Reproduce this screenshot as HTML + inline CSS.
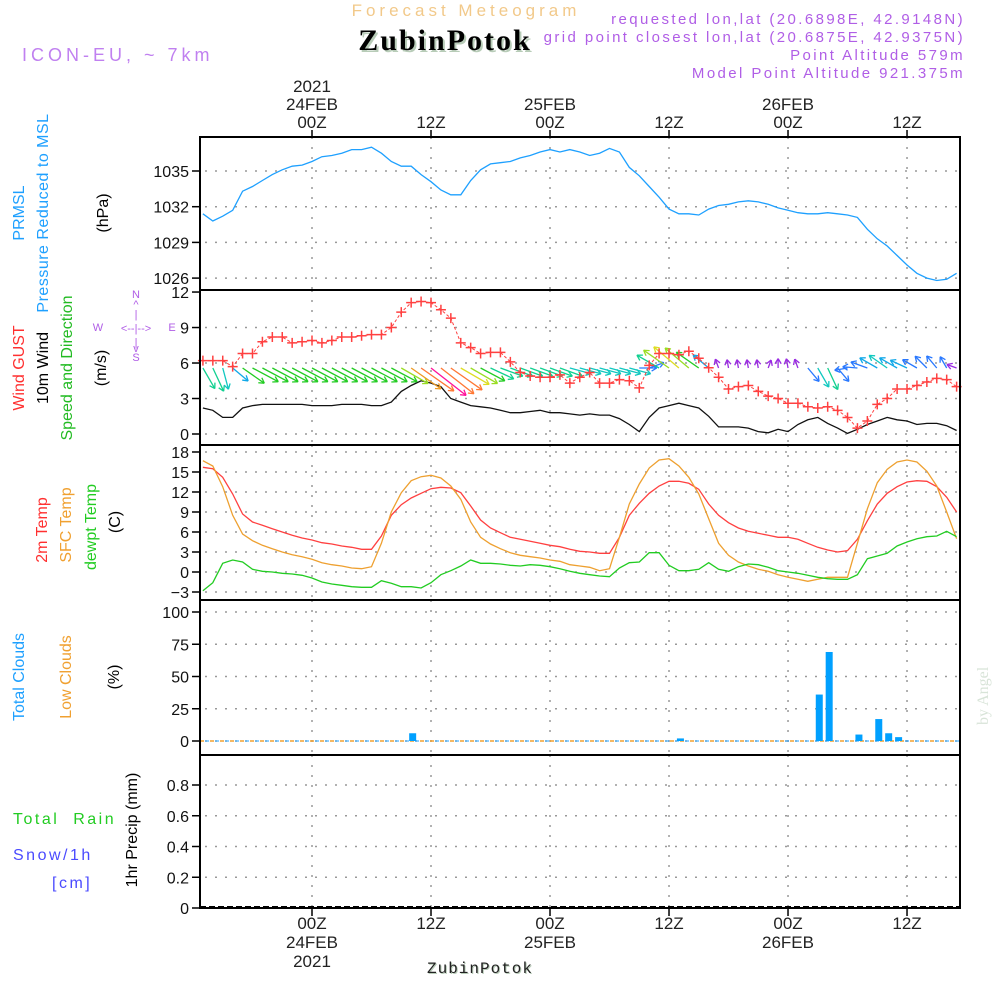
<!DOCTYPE html>
<html><head><meta charset="utf-8"><style>
html,body{margin:0;padding:0;background:#fff;}
svg{display:block;font-family:"Liberation Sans",sans-serif;}
</style></head><body>
<svg id="chart" width="1000" height="1000" viewBox="0 0 1000 1000" xmlns="http://www.w3.org/2000/svg">
<g id="titles">
<text x="466" y="16" text-anchor="middle" font-size="17" fill="#f2c98a" letter-spacing="4">Forecast Meteogram</text>
<text x="965" y="24" text-anchor="end" font-size="15" fill="#b05ee6" letter-spacing="2.4">requested lon,lat (20.6898E, 42.9148N)</text>
<text x="965" y="42" text-anchor="end" font-size="15" fill="#b05ee6" letter-spacing="2.4">grid point closest lon,lat (20.6875E, 42.9375N)</text>
<text x="447" y="52" text-anchor="middle" font-size="30" font-weight="bold" font-family="Liberation Serif, serif" fill="#b8ccb8" letter-spacing="2">ZubinPotok</text>
<text x="445" y="50" text-anchor="middle" font-size="30" font-weight="bold" font-family="Liberation Serif, serif" fill="#000" letter-spacing="2">ZubinPotok</text>
<text x="965" y="60" text-anchor="end" font-size="15" fill="#b05ee6" letter-spacing="2.4">Point Altitude 579m</text>
<text x="965" y="78" text-anchor="end" font-size="15" fill="#b05ee6" letter-spacing="2.4">Model Point Altitude 921.375m</text>
<text x="22" y="61" font-size="18" fill="#c080f0" letter-spacing="4">ICON-EU, ~ 7km</text>
<text transform="translate(988,725) rotate(-90)" font-size="16" font-family="Liberation Serif, serif" fill="#d8e4d8">by Angel</text>
<text x="481" y="974" text-anchor="middle" font-size="16" font-family="Liberation Mono, monospace" fill="#b8ccb8" letter-spacing="1">ZubinPotok</text>
<text x="480" y="973" text-anchor="middle" font-size="16" font-family="Liberation Mono, monospace" fill="#222" letter-spacing="1">ZubinPotok</text>
</g>
<g id="leftlabels" font-size="16">
<text transform="translate(24,213) rotate(-90)" text-anchor="middle" fill="#1ea0ff">PRMSL</text>
<text transform="translate(48,213) rotate(-90)" text-anchor="middle" fill="#1ea0ff" letter-spacing="0.5">Pressure Reduced to MSL</text>
<text transform="translate(108,213) rotate(-90)" text-anchor="middle" fill="#000">(hPa)</text>
<text transform="translate(24,368) rotate(-90)" text-anchor="middle" fill="#ff3030">Wind GUST</text>
<text transform="translate(48,368) rotate(-90)" text-anchor="middle" fill="#000">10m Wind</text>
<text transform="translate(72,368) rotate(-90)" text-anchor="middle" fill="#22bb22">Speed and Direction</text>
<text transform="translate(106,368) rotate(-90)" text-anchor="middle" fill="#000">(m/s)</text>
<g fill="#b05ee6" font-size="11" text-anchor="middle">
<text x="136" y="298">N</text><text x="136" y="308">^</text><text x="136" y="318">|</text>
<text x="98" y="331">W</text><text x="136" y="332">&lt;--|--&gt;</text><text x="172" y="331">E</text>
<text x="136" y="346">|</text><text x="136" y="352">v</text><text x="136" y="361">S</text>
</g>
<text transform="translate(47,530) rotate(-90)" text-anchor="middle" fill="#ff3030">2m Temp</text>
<text transform="translate(71,525) rotate(-90)" text-anchor="middle" fill="#f0a030">SFC Temp</text>
<text transform="translate(96,527) rotate(-90)" text-anchor="middle" fill="#22cc22">dewpt Temp</text>
<text transform="translate(120,522) rotate(-90)" text-anchor="middle" fill="#000">(C)</text>
<text transform="translate(24,677) rotate(-90)" text-anchor="middle" fill="#1ea0ff">Total Clouds</text>
<text transform="translate(71,677) rotate(-90)" text-anchor="middle" fill="#f0a030">Low Clouds</text>
<text transform="translate(119,677) rotate(-90)" text-anchor="middle" fill="#000">(%)</text>
<text x="13" y="824" fill="#22cc22" letter-spacing="2.5" xml:space="preserve">Total  Rain</text>
<text x="13" y="860" fill="#4a4aff" letter-spacing="2.5">Snow/1h</text>
<text x="52" y="888" fill="#4a4aff" letter-spacing="2.5">[cm]</text>
<text transform="translate(137,830) rotate(-90)" text-anchor="middle" fill="#000">1hr Precip (mm)</text>
</g>
<g id="grid"></g>
<g id="marks"></g>
<g id="frame"></g>
</svg>
<script>
const startHour = -11;
const pressure = [1031.4,1030.8,1031.2,1031.7,1033.3,1033.7,1034.2,1034.7,1035.1,1035.4,1035.5,1035.8,1036.2,1036.3,1036.5,1036.8,1036.8,1037.0,1036.5,1035.8,1035.4,1035.4,1034.7,1034.1,1033.4,1033.0,1033.0,1034.2,1035.1,1035.6,1035.7,1035.8,1036.1,1036.3,1036.6,1036.8,1036.6,1036.8,1036.6,1036.3,1036.5,1036.9,1036.6,1035.3,1034.6,1033.7,1032.8,1031.8,1031.4,1031.4,1031.3,1031.8,1032.1,1032.2,1032.4,1032.5,1032.4,1032.2,1031.9,1031.7,1031.5,1031.4,1031.4,1031.5,1031.4,1031.3,1031.1,1030.1,1029.3,1028.7,1027.9,1027.1,1026.4,1026.0,1025.8,1025.9,1026.4];
const gust = [6.2,6.2,6.2,5.7,6.8,6.8,7.8,8.2,8.2,7.7,7.8,7.9,7.7,7.9,8.2,8.2,8.3,8.4,8.4,9.0,10.3,11.1,11.2,11.1,10.5,9.8,7.7,7.3,6.8,6.9,6.9,6.1,5.2,4.9,4.8,4.8,5.0,4.3,4.8,5.2,4.3,4.3,4.6,4.5,3.9,5.8,6.8,6.8,6.7,7.0,6.4,5.6,4.8,3.8,4.0,4.1,3.6,3.2,3.0,2.6,2.6,2.3,2.2,2.3,2.0,1.4,0.5,1.1,2.5,3.0,3.8,3.8,4.1,4.4,4.7,4.6,4.0];
const wind10m = [2.2,2.0,1.4,1.4,2.2,2.4,2.5,2.5,2.5,2.5,2.5,2.4,2.4,2.4,2.5,2.5,2.5,2.4,2.4,2.7,3.6,4.1,4.5,4.3,4.0,3.0,2.7,2.4,2.3,2.2,2.0,1.8,1.8,1.9,2.0,1.8,1.8,1.7,1.6,1.7,1.6,1.6,1.3,0.8,0.2,1.4,2.2,2.4,2.6,2.4,2.2,1.5,0.6,0.6,0.6,0.5,0.2,0.1,0.4,0.2,0.8,1.2,1.4,0.9,0.5,0.05,0.4,0.8,1.1,1.4,1.2,1.1,0.8,0.9,0.9,0.7,0.3];
const windDirFrom = [330,335,345,310,305,298,298,298,298,298,298,298,298,298,298,298,298,298,298,298,300,305,305,308,308,305,300,300,298,295,290,290,290,290,290,290,290,285,285,285,285,285,285,285,270,250,120,125,130,130,125,130,160,170,170,170,170,200,180,170,160,320,330,335,320,80,95,110,120,125,120,115,120,135,140,150,110];
const arrowSpeed = [2.2,2.4,2.0,1.8,2.5,2.8,2.8,2.8,2.8,2.8,2.8,2.8,2.8,2.8,2.8,2.8,2.8,2.8,2.8,2.8,3.0,3.6,4.0,4.5,4.2,3.8,3.2,3.0,2.6,2.4,2.2,2.2,2.2,2.2,2.2,2.2,2.2,2.0,2.0,2.0,2.0,2.0,2.0,2.0,1.5,1.3,2.4,3.0,3.2,3.0,2.6,1.8,0.6,0.5,0.5,0.5,0.5,0.5,0.6,0.6,0.6,1.5,2.0,2.2,1.5,1.0,1.2,1.5,1.8,2.0,1.8,1.6,1.4,1.4,1.3,1.0,0.7];
const temp2m = [15.7,15.5,14.2,11.7,8.7,7.5,7.0,6.5,6.0,5.5,5.1,4.8,4.4,4.2,3.9,3.7,3.4,3.4,5.4,8.5,10.1,11.1,11.8,12.5,12.7,12.6,11.9,9.9,7.8,6.6,5.9,5.2,4.9,4.6,4.3,4.0,3.8,3.4,3.1,3.0,2.8,2.8,5.2,8.5,10.3,11.8,12.9,13.6,13.6,13.3,12.4,10.2,8.5,7.4,6.6,6.1,5.8,5.5,5.2,5.2,4.9,4.3,3.7,3.3,3.0,3.2,4.9,7.7,10.2,11.8,12.8,13.5,13.7,13.6,12.8,11.2,9.0];
const sfcTemp = [16.7,15.9,12.8,8.5,5.7,4.7,4.0,3.5,3.0,2.6,2.3,1.9,1.4,1.1,0.9,0.6,0.5,0.8,4.3,9.0,11.9,13.7,14.3,14.5,14.1,12.9,10.9,7.5,5.2,4.2,3.5,2.9,2.5,2.3,2.1,1.8,1.6,1.1,0.9,0.7,0.2,0.5,5.2,10.2,13.2,15.6,16.8,17.0,15.9,14.2,11.7,8.0,4.3,2.5,1.5,0.9,0.4,0.1,-0.4,-0.8,-1.1,-1.4,-1.1,-0.8,-0.8,-0.8,4.3,9.5,13.4,15.4,16.5,16.8,16.5,15.1,12.9,9.0,5.0];
const dewpt = [-2.8,-1.6,1.3,1.8,1.5,0.4,0.1,0.0,-0.2,-0.3,-0.5,-0.9,-1.5,-1.8,-2.0,-2.2,-2.3,-2.3,-1.3,-1.7,-2.2,-2.2,-2.4,-1.6,-0.4,0.2,0.9,1.8,1.3,1.3,1.2,1.0,0.9,1.1,1.0,0.8,0.5,0.1,-0.2,-0.4,-0.6,-0.7,0.6,1.4,1.5,2.9,2.9,1.0,0.2,0.2,0.4,1.4,0.4,0.1,0.8,1.2,1.1,0.7,0.2,0.0,-0.2,-0.5,-0.8,-1.0,-1.1,-1.1,-0.4,2.0,2.4,2.8,3.9,4.5,5.0,5.3,5.4,6.1,5.3];
const cloudHours = [10,37,51,52,55,57,58,59];
const totalClouds = [6,2,36,69,5,17,6,3];
const pressureTicks = [1035,1032,1029,1026];
const windTicks = [12,9,6,3,0];
const tempTicks = [18,15,12,9,6,3,0,-3];
const cloudTicks = [100,75,50,25,0];
const precipTicks = [0.8,0.6,0.4,0.2,0];
const timeTickHours = [0,12,24,36,48,60];
const topLabels = [["2021","24FEB","00Z"],["","","12Z"],["","25FEB","00Z"],["","","12Z"],["","26FEB","00Z"],["","","12Z"]];
const bottomLabels = [["00Z","24FEB","2021"],["12Z","",""],["00Z","25FEB",""],["12Z","",""],["00Z","26FEB",""],["12Z","",""]];

const NS="http://www.w3.org/2000/svg";
const L=200,R=960;
const X=h=>312+h*9.917;
const yP=v=>171-(v-1035)*11.9;
const yW=v=>434-v*11.83;
const yT=v=>592-(v+3)*6.667;
const yC=v=>741-v*1.29;
const yR=v=>908-v*153.75;
function mk(parent,tag,attrs){const e=document.createElementNS(NS,tag);for(const k in attrs)e.setAttribute(k,attrs[k]);parent.appendChild(e);return e;}
const grid=document.getElementById('grid'),marks=document.getElementById('marks'),frame=document.getElementById('frame');
const panels=[[137,290,pressureTicks,yP,'pressure'],[290,445,windTicks,yW,'wind'],[445,600,tempTicks,yT,'temp'],[600,755,cloudTicks,yC,'cloud'],[755,908,precipTicks,yR,'precip']];
panels.forEach(p=>{
  const [t,b,ticks,f,nm]=p;
  timeTickHours.forEach(h=>{const l=mk(grid,'line',{x1:X(h),x2:X(h),y1:t,y2:b,stroke:'#999','stroke-width':1.5,'stroke-dasharray':'2 8'});
    
    });
  ticks.forEach(v=>{const y=f(v);
    if(y>t+3&&y<b-3){const l=mk(grid,'line',{x1:L+5,x2:R,y1:y,y2:y,stroke:'#999','stroke-width':1.5,'stroke-dasharray':'2 8'});
      
      }
    const tk=mk(frame,'line',{x1:192,x2:L,y1:y,y2:y,stroke:'#000','stroke-width':1.5});
    
    
    const tx=mk(frame,'text',{x:189,y:y+6,'text-anchor':'end','font-size':16,fill:'#111'});
    
    
    tx.textContent=(nm==='precip'&&v!==0)?v.toFixed(1):String(v).replace('-','\u2212');});
  const r=mk(frame,'rect',{x:L,y:t,width:R-L,height:b-t,fill:'none',stroke:'#000','stroke-width':2});
  
  
});
timeTickHours.forEach((h,i)=>{
  [[137,130],[908,916]].forEach(([a,c])=>{const l=mk(frame,'line',{x1:X(h),x2:X(h),y1:a,y2:c,stroke:'#000','stroke-width':1.5});
    
    });
  topLabels[i].forEach((s,j)=>{if(!s)return;const t=mk(frame,'text',{x:X(h),y:92+j*18,'text-anchor':'middle','font-size':17,fill:'#222'});
    
    
    t.textContent=s;});
  bottomLabels[i].forEach((s,j)=>{if(!s)return;const t=mk(frame,'text',{x:X(h),y:929+j*19,'text-anchor':'middle','font-size':17,fill:'#222'});
    
    
    t.textContent=s;});
});
function line(arr,f,color,name,w){const pts=arr.map((v,i)=>X(startHour+i).toFixed(1)+','+f(v).toFixed(1)).join(' ');
  const p=mk(marks,'polyline',{points:pts,fill:'none',stroke:color,'stroke-width':w||1.3});
  
  }
line(pressure,yP,'#1ea0ff','pressure-line');
line(temp2m,yT,'#ff4040','temp-2m-line');
line(sfcTemp,yT,'#eea030','sfc-temp-line');
line(dewpt,yT,'#22cc22','dewpt-line');
line(wind10m,yW,'#111','wind-10m-line');
const lc=mk(marks,'line',{x1:L,x2:R,y1:yC(0),y2:yC(0),stroke:'#f0a030','stroke-width':1.5,'stroke-dasharray':'4 6'});


const tc=mk(marks,'line',{x1:L+5,x2:R,y1:yC(0),y2:yC(0),stroke:'#1ea0ff','stroke-width':1,'stroke-dasharray':'4 6'});


cloudHours.forEach((h,i)=>{const cx=X(h)+1.5,y=yC(totalClouds[i]);
  const r=mk(marks,'rect',{x:cx-3.5,y:y,width:7,height:yC(0)-y,fill:'#00a0ff'});
  
  });
function arrowColor(s){if(s<0.9)return'#9a2be2';if(s<1.6)return'#2878ff';if(s<1.9)return'#10a8e8';if(s<2.15)return'#10c8c0';if(s<2.5)return'#10d090';if(s<2.9)return'#22cc22';if(s<3.1)return'#99dd22';if(s<3.4)return'#dddd22';if(s<3.8)return'#ee9922';if(s<4.3)return'#ff7733';return'#ff1199';}
windDirFrom.forEach((d,i)=>{const s=arrowSpeed[i],len=9*s+4,b=(d+180)*Math.PI/180;
  const x0=X(startHour+i),y0=368,dx=Math.sin(b),dy=-Math.cos(b),x1=x0+dx*len,y1=y0+dy*len;
  const c=arrowColor(s);const g=mk(marks,'g',{stroke:c,'stroke-width':1.3,fill:'none'});
  
  
  mk(g,'line',{x1:x0,y1:y0,x2:x1,y2:y1});
  const a=Math.atan2(dy,dx);[2.6,-2.6].forEach(o=>mk(g,'line',{x1:x1,y1:y1,x2:x1+6*Math.cos(a+o),y2:y1+6*Math.sin(a+o)}));});
const gpts=gust.map((v,i)=>X(startHour+i).toFixed(1)+','+yW(v).toFixed(1)).join(' ');
const gl=mk(marks,'polyline',{points:gpts,fill:'none',stroke:'#ff4040','stroke-width':1,'stroke-dasharray':'3 2'});


gust.forEach((v,i)=>{const x=X(startHour+i),y=yW(v);
  const p=mk(marks,'path',{d:`M${x-5},${y}H${x+5}M${x},${y-5}V${y+5}`,stroke:'#ff4040','stroke-width':1.5});
  
  });
const pz=mk(marks,'line',{x1:L,x2:R,y1:907,y2:907,stroke:'#000','stroke-width':2,'stroke-dasharray':'6 3'});


</script>
</body></html>
